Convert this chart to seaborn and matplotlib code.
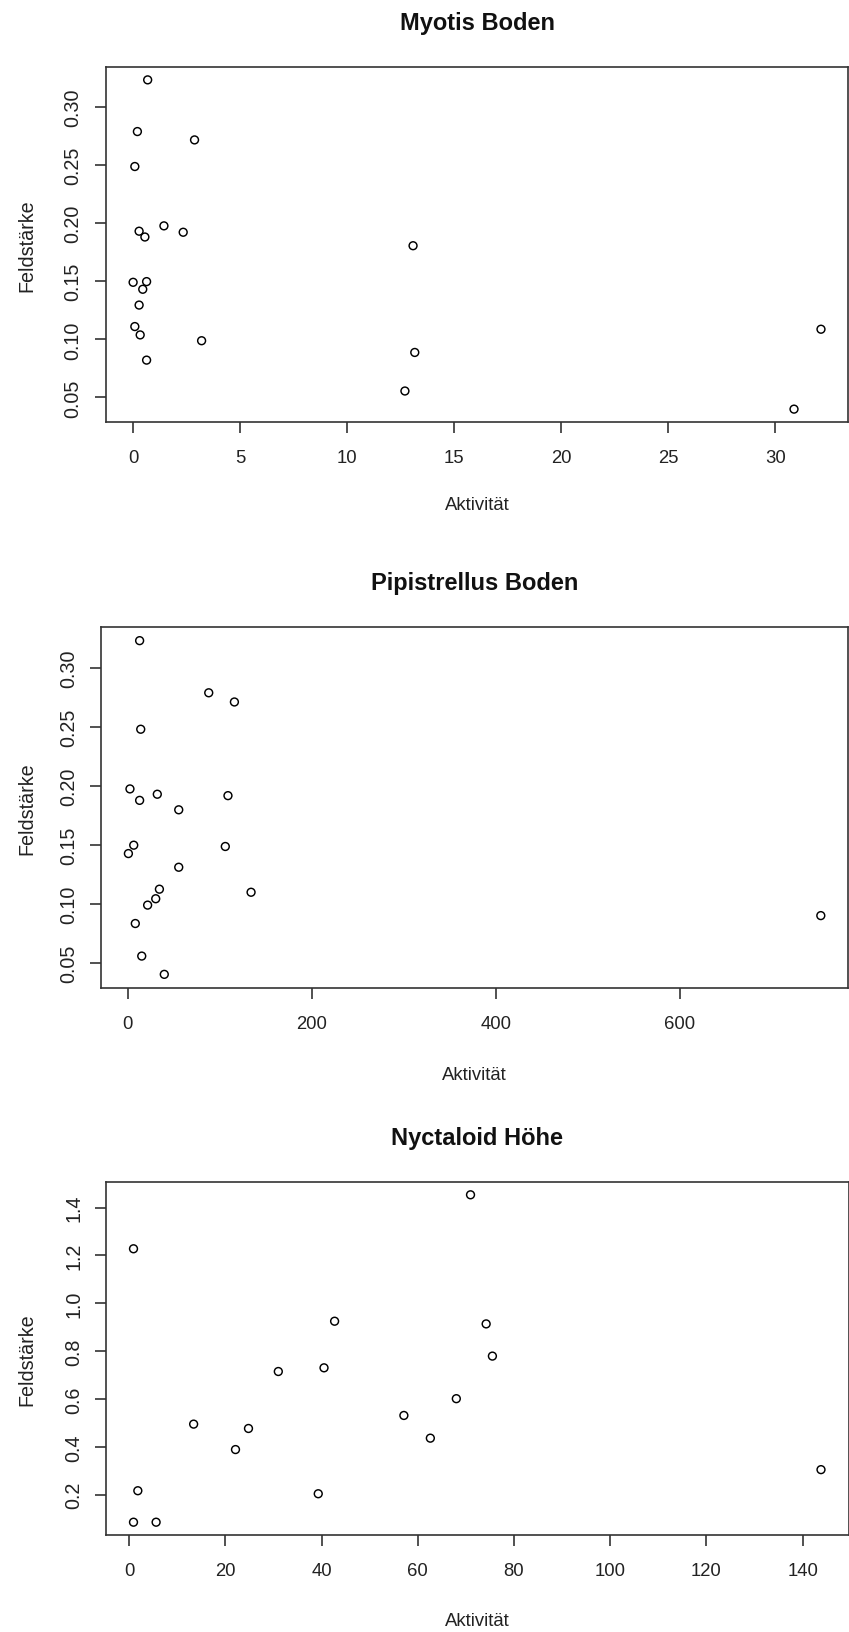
import matplotlib
matplotlib.use("Agg")
import matplotlib.pyplot as plt
import seaborn as sns
import numpy as np

# ---- data ----
myotis_akt = [0.68, 0.20, 2.87, 0.08, 1.44, 0.28, 2.34, 0.55, 13.08, 0.0, 0.63,
              0.45, 0.28, 0.08, 32.14, 0.33, 3.20, 0.63, 13.16, 12.70, 30.88]
myotis_feld = [0.3234, 0.2789, 0.2717, 0.2488, 0.1977, 0.1931, 0.1922, 0.1881, 0.1806,
               0.1491, 0.1497, 0.1431, 0.1295, 0.1110, 0.1087, 0.1038, 0.0988, 0.0821,
               0.0887, 0.0555, 0.0399]

pip_akt = [12.8, 87.9, 115.8, 14.0, 2.3, 12.8, 32.0, 55.3, 108.8, 6.4, 105.9, 0.6,
           55.3, 34.3, 133.9, 30.3, 21.5, 8.1, 753.0, 15.1, 39.6]
pip_feld = [0.3231, 0.2789, 0.2711, 0.2480, 0.1974, 0.1877, 0.1929, 0.1797, 0.1917,
            0.1497, 0.1486, 0.1426, 0.1310, 0.1124, 0.1098, 0.1043, 0.0989, 0.0833,
            0.0900, 0.0557, 0.0402]

nyc_akt = [70.95, 0.9, 42.7, 74.2, 75.5, 31.0, 40.5, 68.0, 57.1, 13.4, 24.8, 62.6,
           22.1, 143.8, 1.8, 39.3, 0.9, 5.6]
nyc_feld = [1.4532, 1.2277, 0.925, 0.9138, 0.7793, 0.7149, 0.7303, 0.6014, 0.5313,
            0.4951, 0.4769, 0.4364, 0.3888, 0.3049, 0.2168, 0.2042, 0.0853, 0.0853]

titles = ["Myotis Boden", "Pipistrellus Boden", "Nyctaloid Höhe"]
x_label = "Aktivität"
y_label = "Feldstärke"

x_ticks = [[0, 5, 10, 15, 20, 25, 30], [0, 200, 400, 600], [0, 20, 40, 60, 80, 100, 120, 140]]
y_ticks = [[0.05, 0.10, 0.15, 0.20, 0.25, 0.30], [0.05, 0.10, 0.15, 0.20, 0.25, 0.30],
           [0.2, 0.4, 0.6, 0.8, 1.0, 1.2, 1.4]]
y_ticklabels = [["0.05", "0.10", "0.15", "0.20", "0.25", "0.30"],
                ["0.05", "0.10", "0.15", "0.20", "0.25", "0.30"],
                ["0.2", "0.4", "0.6", "0.8", "1.0", "1.2", "1.4"]]

# ---- style ----
sns.set_style("white")
plt.rcParams["font.family"] = ["Liberation Sans", "DejaVu Sans"]

W, H = 849, 1633
fig = plt.figure(figsize=(W / 100, H / 100), dpi=100)

# axes boxes in pixels: left, top, right, bottom
boxes = [(105.6, 67.7, 848.5, 423.3),
         (100.7, 628.3, 848.5, 988.7),
         (106.0, 1182.7, 848.5, 1536.3)]
xlabel_offsets = [82, 87, 85]   # px below axes bottom (label centre)
ylabel_x = 26.5                 # px from figure left (label centre)

datasets = [(myotis_akt, myotis_feld), (pip_akt, pip_feld), (nyc_akt, nyc_feld)]

for i, ((xs, ys), (l, t, r, b)) in enumerate(zip(datasets, boxes)):
    ax = fig.add_axes([l / W, (H - b) / H, (r - l) / W, (b - t) / H])
    sns.scatterplot(x=xs, y=ys, ax=ax, marker="o", s=32,
                    facecolors="none", edgecolor="black", linewidth=1.05)
    # R-style 4% range extension
    xr = max(xs) - min(xs)
    yr = max(ys) - min(ys)
    ax.set_xlim(min(xs) - 0.04 * xr, max(xs) + 0.04 * xr)
    ax.set_ylim(min(ys) - 0.04 * yr, max(ys) + 0.04 * yr)

    ax.set_xticks(x_ticks[i])
    ax.set_xticklabels([str(v) for v in x_ticks[i]], fontsize=13.3)
    ax.set_yticks(y_ticks[i])
    ax.set_yticklabels(y_ticklabels[i], rotation=90, va="center", fontsize=14.2)

    ax.tick_params(axis="both", direction="out", length=7.9, width=1.1,
                   color="#222222", labelcolor="#222222",
                   bottom=True, left=True)
    ax.tick_params(axis="x", pad=11.5)
    ax.tick_params(axis="y", pad=8.6)

    for sp in ax.spines.values():
        sp.set_color("#333333")
        sp.set_linewidth(1.2)

    ax.set_title(titles[i], fontsize=17, fontweight="bold", pad=27.5, color="#111111")

    ax.set_xlabel(x_label, fontsize=13.3, color="#222222")
    ax.xaxis.set_label_coords(0.5, -xlabel_offsets[i] / (b - t))
    ax.xaxis.label.set_va("center")

    ax.set_ylabel(y_label, fontsize=14.2, color="#222222")
    ax.yaxis.set_label_coords(-(l - ylabel_x) / (r - l), 0.5)
    ax.yaxis.label.set_va("center")

fig.savefig("out.png", dpi=100, facecolor="white")
